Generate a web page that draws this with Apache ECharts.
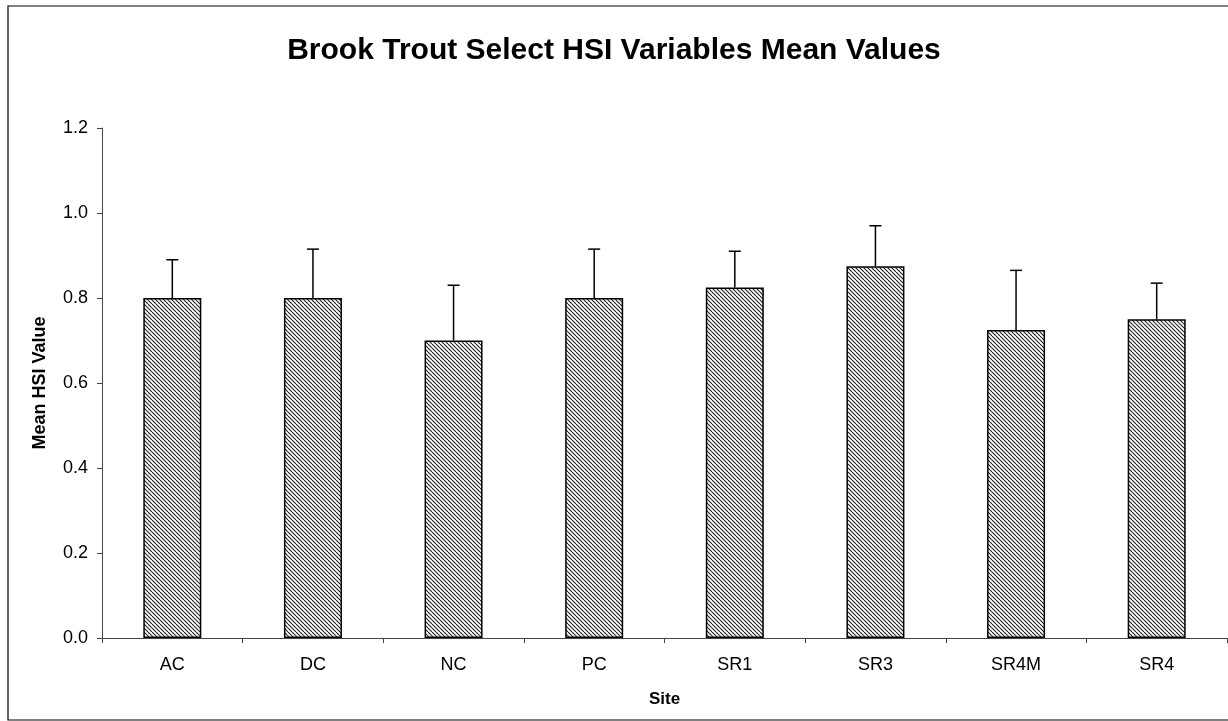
<!DOCTYPE html>
<html>
<head>
<meta charset="utf-8">
<script src="https://cdn.jsdelivr.net/npm/echarts@6/dist/echarts.min.js"></script>
<style>
html,body{margin:0;padding:0;background:#fff;}
#chart{width:1228px;height:721px;}
</style>
</head>
<body>
<div id="chart"></div>
<script>
// ---- data ----
var categories = ['AC', 'DC', 'NC', 'PC', 'SR1', 'SR3', 'SR4M', 'SR4'];
var meanValues = [0.80, 0.80, 0.70, 0.80, 0.825, 0.875, 0.725, 0.75];
var errorValues = [0.09, 0.115, 0.13, 0.115, 0.085, 0.095, 0.14, 0.085];
var yTicks = [0, 0.2, 0.4, 0.6, 0.8, 1.0, 1.2];

// hatch pattern
var pc = document.createElement('canvas');
pc.width = 8; pc.height = 8;
var ctx = pc.getContext('2d');
ctx.fillStyle = '#ffffff';
ctx.fillRect(0, 0, 8, 8);
ctx.strokeStyle = '#222222';
ctx.lineWidth = 1.1;
for (var s = -8; s <= 8; s += 4) {
  ctx.beginPath();
  ctx.moveTo(s, 0);
  ctx.lineTo(s + 8, 8);
  ctx.stroke();
}

var errData = categories.map(function (c, i) { return [i, meanValues[i], errorValues[i]]; });

var chart = echarts.init(document.getElementById('chart'), null, {renderer: 'canvas'});
var font = 'Liberation Sans, Arial, sans-serif';
chart.setOption({
  animation: false,
  backgroundColor: '#ffffff',
  title: {
    text: 'Brook Trout Select HSI Variables Mean Values',
    left: 'center',
    top: 31,
    textStyle: {fontFamily: font, fontSize: 30, fontWeight: 'bold', color: '#000'}
  },
  graphic: [{
    type: 'rect',
    shape: {x: 8, y: 6, width: 1240, height: 714},
    style: {fill: 'none', stroke: '#000', lineWidth: 1.2},
    silent: true
  }],
  grid: {left: 102, right: 1, top: 128, bottom: 83, containLabel: false},
  xAxis: {
    type: 'category',
    data: categories,
    boundaryGap: true,
    name: 'Site',
    nameLocation: 'middle',
    nameGap: 53,
    nameTextStyle: {fontFamily: font, fontSize: 17, fontWeight: 'bold', color: '#000'},
    axisLine: {lineStyle: {color: '#444', width: 1}},
    axisTick: {show: true, length: 5, lineStyle: {color: '#444'}},
    axisLabel: {fontFamily: font, fontSize: 18, color: '#000', margin: 18}
  },
  yAxis: {
    type: 'value',
    min: 0, max: 1.2, interval: 0.2,
    name: 'Mean HSI Value',
    nameLocation: 'middle',
    nameGap: 53,
    nameRotate: 90,
    nameTextStyle: {fontFamily: font, fontSize: 18, fontWeight: 'bold', color: '#000'},
    axisLine: {show: true, lineStyle: {color: '#444', width: 1}},
    axisTick: {show: true, length: 5, lineStyle: {color: '#444'}},
    splitLine: {show: false},
    axisLabel: {fontFamily: font, fontSize: 18, color: '#000', margin: 14,
      formatter: function (v) { return v.toFixed(1); }}
  },
  series: [{
    type: 'bar',
    data: meanValues,
    barWidth: 58,
    itemStyle: {color: {image: pc, repeat: 'repeat'}, borderColor: '#000', borderWidth: 1.5}
  }, {
    type: 'custom',
    data: errData,
    z: 5,
    encode: {x: 0, y: 1},
    renderItem: function (params, api) {
      var i = api.value(0);
      var base = api.coord([i, api.value(1)]);
      var top = api.coord([i, api.value(1) + api.value(2)]);
      var style = {stroke: '#000', lineWidth: 1.5};
      return {
        type: 'group',
        children: [
          {type: 'line', shape: {x1: base[0], y1: base[1], x2: top[0], y2: top[1]}, style: style},
          {type: 'line', shape: {x1: top[0] - 6, y1: top[1], x2: top[0] + 6, y2: top[1]}, style: style}
        ]
      };
    }
  }]
});
</script>
</body>
</html>
